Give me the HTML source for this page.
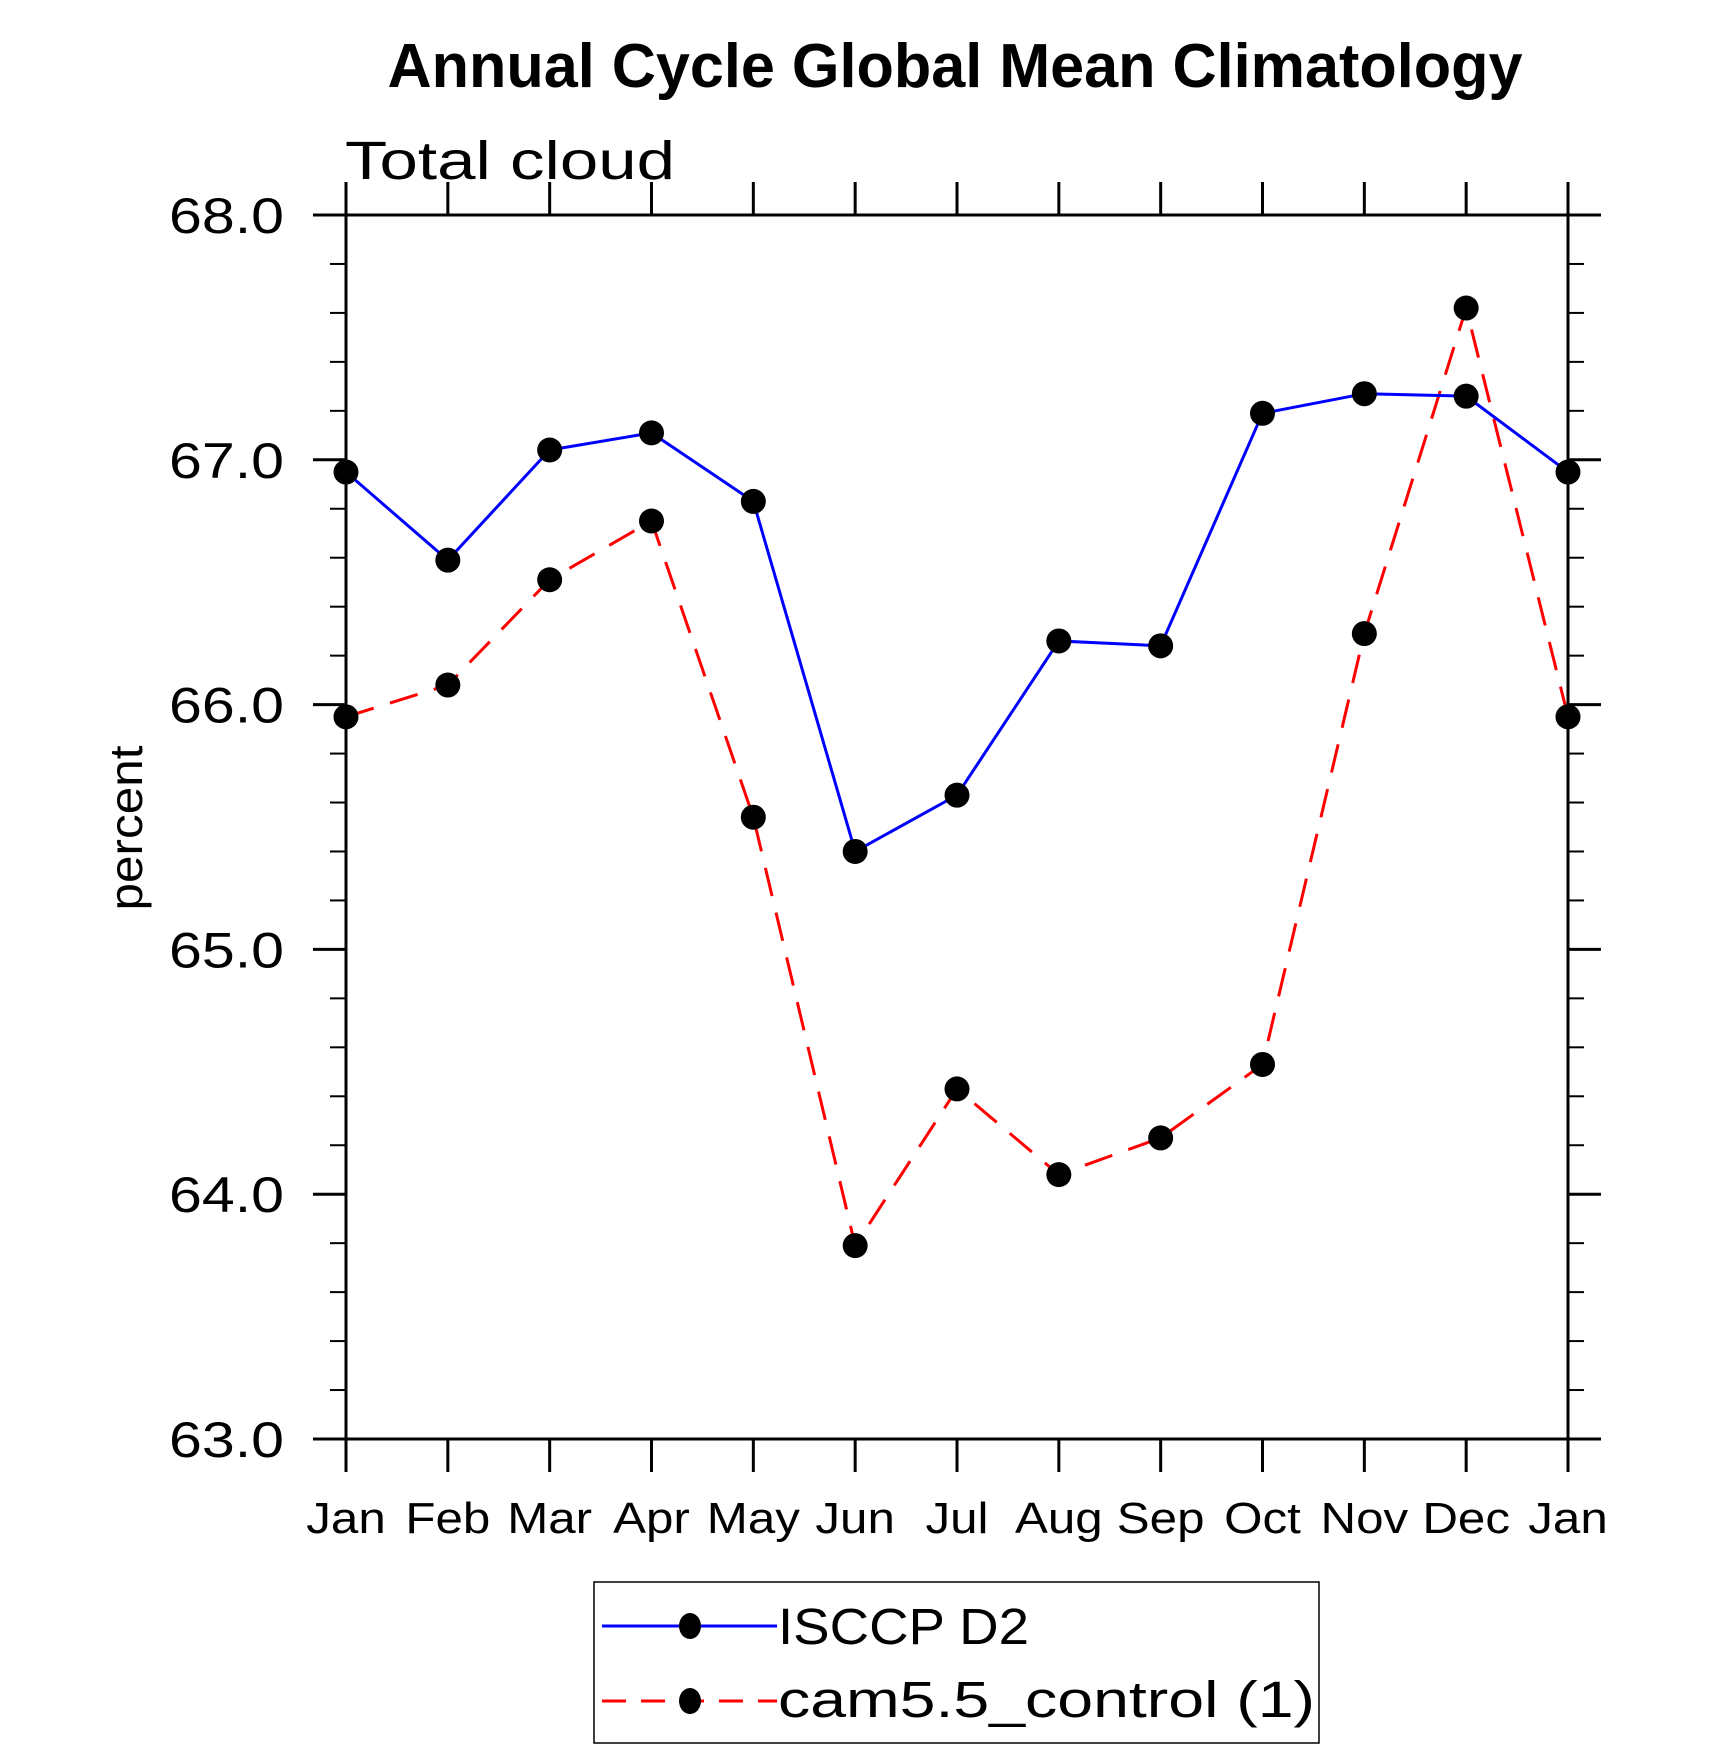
<!DOCTYPE html>
<html><head><meta charset="utf-8"><style>
html,body{margin:0;padding:0;background:#fff;}
svg{display:block;}
text{font-family:"Liberation Sans",sans-serif;}
.thin{font-weight:normal;fill:#000;}
</style></head><body>
<svg id="chart" width="1710" height="1751" xmlns="http://www.w3.org/2000/svg">
<text x="955" y="87" text-anchor="middle" font-size="62" font-weight="bold" textLength="1135" lengthAdjust="spacingAndGlyphs">Annual Cycle Global Mean Climatology</text>
<text class="thin" x="345" y="179" font-size="54" textLength="330" lengthAdjust="spacingAndGlyphs">Total cloud</text>
<text class="thin" transform="translate(142,828) rotate(-90)" text-anchor="middle" font-size="46" textLength="165" lengthAdjust="spacingAndGlyphs">percent</text>
<g id="axes"></g>
<g id="series"></g>
<g>
<rect x="594" y="1582" width="725" height="161" fill="none" stroke="#000" stroke-width="1.5"/>
<g>
<line x1="602" y1="1626" x2="777" y2="1626" stroke="#0000ff" stroke-width="3"/>
<ellipse cx="690" cy="1626" rx="11" ry="13" fill="#000"/>
<text class="thin" x="778" y="1644" font-size="51" textLength="251" lengthAdjust="spacingAndGlyphs">ISCCP D2</text>
</g>
<g>
<line x1="602" y1="1701" x2="777" y2="1701" stroke="#ff0000" stroke-width="3" stroke-dasharray="24,15"/>
<ellipse cx="690" cy="1701" rx="11" ry="13" fill="#000"/>
<text class="thin" x="778" y="1717" font-size="51" textLength="537" lengthAdjust="spacingAndGlyphs">cam5.5_control (1)</text>
</g>
</g>
</svg>
<script>
const months = ["Jan","Feb","Mar","Apr","May","Jun","Jul","Aug","Sep","Oct","Nov","Dec","Jan"];
const isccp = [66.95,66.59,67.04,67.11,66.83,65.40,65.63,66.26,66.24,67.19,67.27,67.26,66.95];
const cam = [65.95,66.08,66.51,66.75,65.54,63.79,64.43,64.08,64.23,64.53,66.29,67.62,65.95];
const yTicks = [63,64,65,66,67,68];
const yTickLabels = ["63.0","64.0","65.0","66.0","67.0","68.0"];

const L=346,R=1568,T=215,B=1439,yMin=63,yMax=68;
const NS="http://www.w3.org/2000/svg";
function xs(i){return L+(R-L)*i/(months.length-1);}
function ys(v){return B-(v-yMin)/(yMax-yMin)*(B-T);}
function mk(tag,attrs,parent){const e=document.createElementNS(NS,tag);for(const k in attrs)e.setAttribute(k,attrs[k]);parent.appendChild(e);return e;}
const axes=document.getElementById('axes'), ser=document.getElementById('series');
const frame=mk('rect',{x:L,y:T,width:R-L,height:B-T,fill:'none',stroke:'#000','stroke-width':3},axes);


function widen(t,f){const w=t.getComputedTextLength();t.setAttribute('textLength',w*f);t.setAttribute('lengthAdjust','spacingAndGlyphs');}
months.forEach((m,i)=>{
  const x=xs(i);
  mk('line',{x1:x,y1:B,x2:x,y2:B+33,stroke:'#000','stroke-width':3},axes);
  mk('line',{x1:x,y1:T,x2:x,y2:T-33,stroke:'#000','stroke-width':3},axes);
  const t=mk('text',{x:x,y:1533,'text-anchor':'middle','font-size':44,class:'thin'},axes);
  t.textContent=m;
  
  
  widen(t,1.12);
});
for(let k=0;k<=25;k++){
  const v=yMin+k*0.2, y=ys(v), major=(k%5===0), len=major?33:16;
  mk('line',{x1:L-len,y1:y,x2:L,y2:y,stroke:'#000','stroke-width':major?3:2},axes);
  mk('line',{x1:R,y1:y,x2:R+len,y2:y,stroke:'#000','stroke-width':major?3:2},axes);
}
yTicks.forEach((v,i)=>{
  const t=mk('text',{x:284,y:ys(v)+18,'text-anchor':'end','font-size':50,class:'thin'},axes);
  t.textContent=yTickLabels[i];
  
  
  t.setAttribute('textLength',115);
  t.setAttribute('lengthAdjust','spacingAndGlyphs');
});
function draw(vals,color,dash,name){
  const pts=vals.map((v,i)=>xs(i)+','+ys(v)).join(' ');
  const a={points:pts,fill:'none',stroke:color,'stroke-width':3};
  if(dash)a['stroke-dasharray']=dash;
  const pl=mk('polyline',a,ser);
  
  
  vals.forEach((v,i)=>{
    const c=mk('circle',{cx:xs(i),cy:ys(v),r:12.5,fill:'#000'},ser);
    
    
  });
}
draw(cam,'#ff0000','29,17','cam');
draw(isccp,'#0000ff',null,'isccp');
</script>
</body></html>
